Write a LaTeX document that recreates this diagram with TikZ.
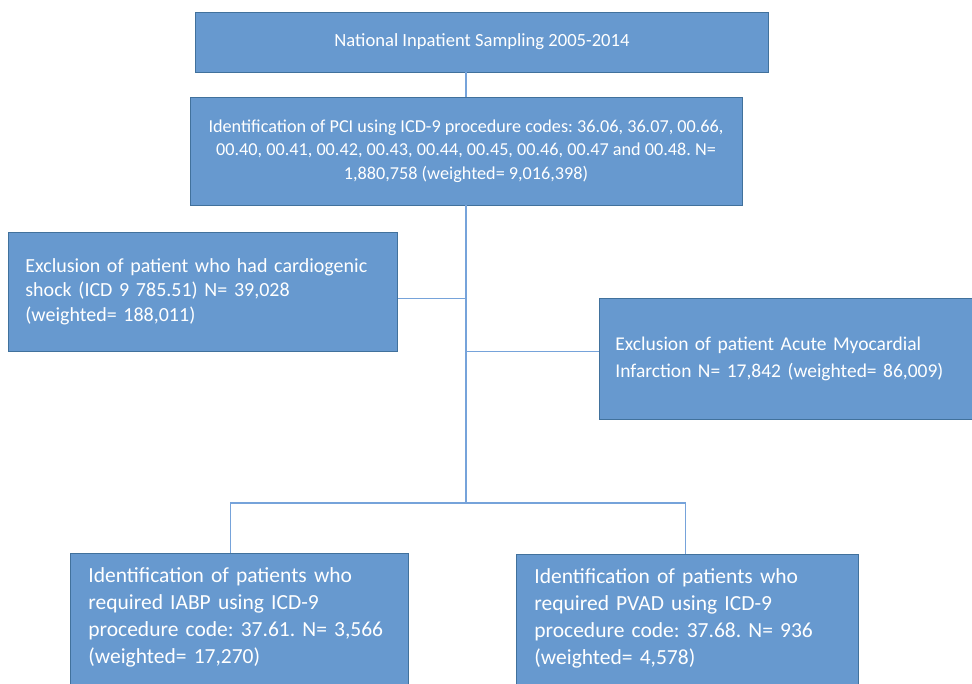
\documentclass[tikz,border=0pt]{standalone}
\usepackage{fontspec}
\setmainfont{Carlito}
\usetikzlibrary{calc,positioning}
\definecolor{boxblue}{RGB}{103,153,207}
\definecolor{boxedge}{RGB}{65,113,156}
\definecolor{linkblue}{RGB}{118,163,218}
\tikzset{
  box/.style={draw=boxedge,fill=boxblue,text=white,line width=0.8pt},
  link/.style={draw=linkblue,line width=1.3pt},
}
\frenchspacing
\begin{document}
\begin{tikzpicture}[x=1pt,y=-1pt]
\useasboundingbox(0,0)rectangle(972,683);
\node[box,minimum width=573pt,minimum height=60pt,align=center,font=\fontsize{18.6}{22}\selectfont](nis)at(482,42){National Inpatient Sampling 2005-2014};
\node[box,minimum width=552pt,minimum height=108pt,align=center,font=\fontsize{18.2}{23.5}\selectfont](pci)at(466,151){Identification of PCI using ICD-9 procedure codes: 36.06, 36.07, 00.66,\\00.40, 00.41, 00.42, 00.43, 00.44, 00.45, 00.46, 00.47 and 00.48. N=\\1,880,758 (weighted= 9,016,398)};
\node[box,anchor=west,inner xsep=17pt,text width=355pt,minimum height=119pt,align=left,font=\fontsize{20}{24.5}\selectfont](shock)at(8,291.5){Exclusion of patient who had cardiogenic\\shock (ICD 9 785.51) N= 39,028\\(weighted= 188,011)};
\node[box,anchor=west,inner xsep=16pt,text width=368pt,minimum height=121pt,align=left,font=\fontsize{19.5}{27}\selectfont](ami)at(599,358.5){Exclusion of patient Acute Myocardial\\Infarction N= 17,842 (weighted= 86,009)};
\node[box,anchor=north west,inner xsep=18pt,inner ysep=14pt,text width=302pt,text depth=130pt,align=left,font=\fontsize{21.5}{27}\selectfont](iabp)at(70,553){Identification of patients who\\required IABP using ICD-9\\procedure code: 37.61. N= 3,566\\(weighted= 17,270)};
\node[box,anchor=north west,inner xsep=18pt,inner ysep=14pt,text width=306pt,text depth=130pt,align=left,font=\fontsize{21.5}{27}\selectfont](pvad)at(516,554){Identification of patients who\\required PVAD using ICD-9\\procedure code: 37.68. N= 936\\(weighted= 4,578)};
\coordinate(split)at(466,503);
\draw[link](pci.north)--(pci.north|-nis.south);
\draw[link](pci.south)--(split);
\draw[link]([yshift=-7pt]shock.east)--([yshift=-7pt]shock.east-|pci.south);
\draw[link]([yshift=7pt]ami.west)--([yshift=7pt]ami.west-|pci.south);
\draw[link]([xshift=-9pt]iabp.north)|-(split)-|([xshift=-2pt]pvad.north);
\end{tikzpicture}
\end{document}
